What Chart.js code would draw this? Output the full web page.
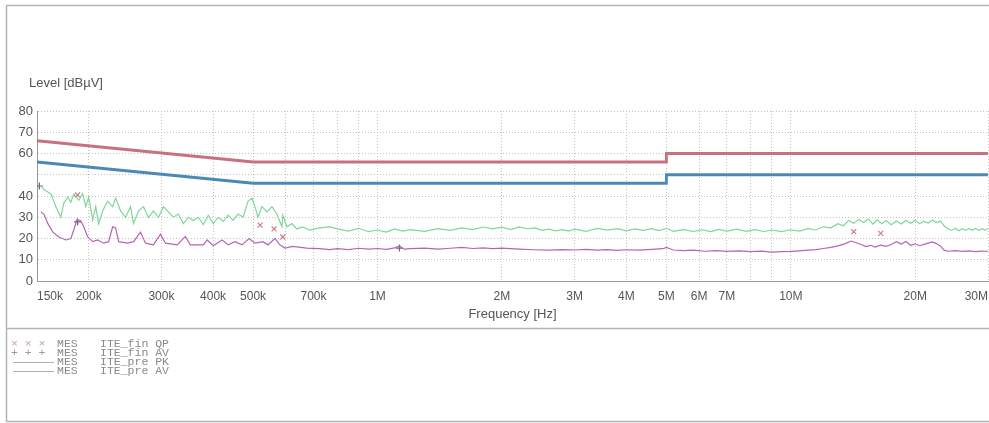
<!DOCTYPE html>
<html>
<head>
<meta charset="utf-8">
<script src="https://cdn.jsdelivr.net/npm/chart.js@4.4.1/dist/chart.umd.min.js"></script>
<style>
html, body { margin: 0; padding: 0; background: #fff; }
</style>
</head>
<body>
<canvas id="myChart" width="989" height="423"></canvas>
<script>
// 頻率單位：MHz
const xGridValues = [0.15, 0.2, 0.3, 0.4, 0.5, 0.6, 0.7, 0.8, 0.9, 1, 2, 3, 4, 5, 6, 7, 8, 9, 10, 20, 30];
const xLabelValues = [0.15, 0.2, 0.3, 0.4, 0.5, 0.7, 1, 2, 3, 4, 5, 6, 7, 10, 20, 30];
const xLabelTexts = ['150k', '200k', '300k', '400k', '500k', '700k', '1M', '2M', '3M', '4M', '5M', '6M', '7M', '10M', '20M', '30M'];
const yTickLabels = [0, 10, 20, 30, 40, 60, 70, 80];

// 限制線
const qpLimitFreq = [0.15, 0.5, 5, 5, 30];
const qpLimitLevel = [66, 56, 56, 60, 60];
const avLimitFreq = [0.15, 0.5, 5, 5, 30];
const avLimitLevel = [56, 46, 46, 50, 50];

// ITE_pre PK
const pkFreq = [0.1533, 0.1559, 0.1621, 0.1666, 0.1713, 0.1742, 0.1781, 0.1811, 0.1841, 0.1893, 0.1935, 0.1968, 0.2001, 0.2046, 0.2080, 0.2115,
    0.2162, 0.2223, 0.2286, 0.2325, 0.2390, 0.2457, 0.2526, 0.2569, 0.2640, 0.2715, 0.2791, 0.2870, 0.2951, 0.3034, 0.3119, 0.3206,
    0.3297, 0.3390, 0.3485, 0.3583, 0.3684, 0.3788, 0.3895, 0.4004, 0.4116, 0.4232, 0.4351, 0.4473, 0.4599, 0.4728, 0.4861, 0.4970,
    0.5053, 0.5138, 0.5253, 0.5401, 0.5553, 0.5709, 0.5870, 0.5902, 0.6034, 0.6204, 0.6377, 0.6593, 0.6855, 0.7247, 0.7664,
    0.8, 0.85, 0.9, 0.95, 1.0, 1.05, 1.1, 1.15, 1.2, 1.3, 1.4, 1.5, 1.6, 1.7, 1.8, 1.9, 2.0, 2.1, 2.2, 2.3, 2.4, 2.5, 2.6, 2.7, 2.8, 2.9,
    3.0, 3.2, 3.4, 3.6, 3.8, 4.0, 4.2, 4.4, 4.6, 4.8, 5.0, 5.2, 5.5, 5.8, 6.1, 6.4, 6.7, 7.0, 7.4, 7.8, 8.2, 8.6, 9.0, 9.5,
    10, 10.5, 11, 11.5, 12, 12.5, 13, 13.4, 13.8, 14.2, 14.6, 15, 15.4, 15.8, 16.2, 16.6, 17, 17.5, 18, 18.5, 19, 19.5, 20, 20.5,
    21, 21.5, 22, 22.5, 23, 23.5, 24, 24.5, 25, 25.5, 26, 26.5, 27, 27.5, 28, 28.5, 29, 29.5, 30];
const pkLevel = [45, 43, 41, 35, 30, 36.7, 39.5, 37, 41, 38, 41, 35, 39.5, 28.7, 35, 27,
    33, 37.5, 35, 39, 33, 30, 35, 27, 33, 35, 30, 33, 30, 35, 32.5, 30,
    31.5, 27, 30, 28.5, 30, 26.5, 31, 27, 30, 28, 31, 28.5, 31.5, 30, 37.5, 39,
    35, 30, 35, 32.5, 35, 31.5, 25.5, 31, 25.5, 27, 24.5, 25.5, 24, 25, 25.5,
    24.5, 23.5, 24.8, 23.2, 24, 23, 24.5, 23.5, 24.2, 23.4, 24.6, 23.8, 25, 24.2, 25.4, 24.5, 25.3, 24.2, 25.5, 24.6, 25, 23.8, 24.4, 23.6, 24.2, 23.5,
    24.4, 23.4, 24.8, 23.9, 24.6, 23.6, 24.5, 23.8, 24.6, 23.7, 24.8, 23.4, 24.2, 23.3, 24.1, 23.2, 24.3, 23.5, 24.4, 23.4, 24.2, 23.3, 24, 23.2,
    24.1, 23.5, 24.6, 24, 25.5, 25, 27, 26, 28.5, 27.2, 29, 27.5, 29.2, 26.8, 28.8, 27, 28.5, 26.5, 28.2, 26.8, 28.5, 27.2, 28.6, 27,
    28, 27.3, 28.6, 27.5, 28.2, 26, 24.6, 23.8, 24.8, 23.6, 24.6, 23.8, 24.7, 23.9, 24.8, 23.7, 24.6, 24, 24.5];

// ITE_pre AV
const avFreq = [0.1533, 0.1559, 0.1594, 0.1639, 0.1694, 0.1761, 0.1811, 0.1841, 0.1872, 0.1913, 0.1946, 0.1990, 0.2046, 0.2103, 0.2174, 0.2236,
    0.2286, 0.2325, 0.2364, 0.2485, 0.2569, 0.2670, 0.2745, 0.2870, 0.2984, 0.3068, 0.3278, 0.3427, 0.3524, 0.3788, 0.3873, 0.4004,
    0.4208, 0.4351, 0.4523, 0.4702, 0.4888, 0.5053, 0.5283, 0.5431, 0.5646, 0.5805, 0.5968, 0.6238, 0.6741, 0.7247, 0.7664,
    0.8, 0.85, 0.9, 0.95, 1.0, 1.05, 1.1, 1.13, 1.16, 1.2, 1.3, 1.4, 1.5, 1.6, 1.7, 1.8, 1.9, 2.0, 2.2, 2.4, 2.6, 2.8, 3.0, 3.2, 3.4, 3.6, 3.8,
    4.0, 4.3, 4.6, 4.9, 5.0, 5.2, 5.5, 5.8, 6.2, 6.6, 7.0, 7.5, 8.0, 8.5, 9.0, 9.5, 10, 10.5, 11, 11.5, 12, 12.5, 13, 13.5, 14, 14.4,
    14.8, 15.2, 15.6, 16, 16.5, 17, 17.5, 18, 18.5, 19, 19.5, 20, 20.5, 21, 21.5, 22, 22.5, 23, 23.5, 24, 25, 26, 27, 28, 29, 30];
const avLevel = [32.5, 31.5, 27, 23, 20.7, 19.3, 20, 24, 28.7, 28.5, 25.5, 20.7, 18.5, 19.3, 17.8, 18.5,
    25.5, 25, 18.5, 17.8, 18.5, 23, 17.8, 17, 22, 17.8, 17, 21, 17, 17, 19.3, 16.6,
    19.3, 17, 18.5, 17, 20, 17.8, 18.5, 17, 20, 17, 15.5, 16.3, 15.5, 15.2, 14.8,
    15.2, 14.8, 15.4, 15, 15.3, 14.9, 15.6, 16.5, 15, 15.2, 15.5, 15, 15.4, 15.8, 15.3, 15.6, 15.2, 15.5, 15, 14.7, 14.5, 14.8, 14.6, 14.9, 14.5, 14.8, 14.4,
    14.7, 14.5, 14.9, 15.2, 15.8, 14.6, 14.3, 14.5, 14, 14.3, 13.9, 14.2, 13.8, 14.1, 13.6, 13.8, 13.9, 14.2, 14.5, 14.8, 15.3, 15.8, 16.5, 17.5, 18.8, 18,
    17.2, 16.2, 16.8, 16, 16.9, 16.3, 17.2, 18.5, 17.4, 18.6, 16.8, 17.5, 16.6, 17.2, 17.8, 18.4, 17.6, 16.5, 14.5, 14, 14.3, 13.9, 14.2, 13.8, 14.1, 14];

// 最終量測點
const qpFinFreq = [0.188, 0.52, 0.562, 0.59, 14.2, 16.5];
const qpFinLevel = [40.5, 26.3, 24.5, 20.7, 23.2, 22.4];
const avFinFreq = [0.152, 0.188, 1.13];
const avFinLevel = [44.7, 27.8, 15.5];

// 圖例文字
const legendRows = [
    { mark: '× × ×', name: 'MES', trace: 'ITE_fin QP' },
    { mark: '+ + +', name: 'MES', trace: 'ITE_fin AV' },
    { mark: 'line', name: 'MES', trace: 'ITE_pre PK' },
    { mark: 'line', name: 'MES', trace: 'ITE_pre AV' }
];

const toPoints = (xs, ys) => xs.map((x, i) => ({ x: x, y: ys[i] }));

// 外框、Y 軸標題與圖例
const framePlugin = {
    id: 'frame',
    afterDraw(chart) {
        const c = chart.ctx;
        c.save();
        c.strokeStyle = '#b4b4b4';
        c.lineWidth = 1.5;
        c.strokeRect(6.5, 5.5, 990, 416);
        c.beginPath();
        c.moveTo(6.5, 328.5);
        c.lineTo(989, 328.5);
        c.stroke();

        c.fillStyle = '#555';
        c.font = '13px "Liberation Sans", Arial, sans-serif';
        c.textBaseline = 'middle';
        c.fillText('Level [dBµV]', 29, 83);

        c.font = '11.5px "Liberation Mono", monospace';
        legendRows.forEach((row, i) => {
            const y = 344 + i * 9;
            if (row.mark === 'line') {
                c.strokeStyle = '#b0b0b0';
                c.lineWidth = 1;
                c.beginPath();
                c.moveTo(13, y + 0.5);
                c.lineTo(54, y + 0.5);
                c.stroke();
            } else {
                c.fillStyle = row.mark.startsWith('×') ? '#c9a0a8' : '#999';
                c.fillText(row.mark, 11, y);
            }
            c.fillStyle = '#8a8a8a';
            c.fillText(row.name, 57, y);
            c.fillText(row.trace, 100, y);
        });
        c.restore();
    }
};

const ctx = document.getElementById('myChart').getContext('2d');
const myChart = new Chart(ctx, {
    type: 'line',
    data: {
        datasets: [
            {
                label: 'QP limit',
                data: toPoints(qpLimitFreq, qpLimitLevel),
                borderColor: '#c8707e',
                borderWidth: 2.8,
                pointRadius: 0
            },
            {
                label: 'AV limit',
                data: toPoints(avLimitFreq, avLimitLevel),
                borderColor: '#4a88b5',
                borderWidth: 2.8,
                pointRadius: 0
            },
            {
                label: 'ITE_pre PK',
                data: toPoints(pkFreq, pkLevel),
                borderColor: '#80d69c',
                borderWidth: 1.2,
                pointRadius: 0
            },
            {
                label: 'ITE_pre AV',
                data: toPoints(avFreq, avLevel),
                borderColor: '#b466b4',
                borderWidth: 1.2,
                pointRadius: 0
            },
            {
                label: 'ITE_fin QP',
                data: toPoints(qpFinFreq, qpFinLevel),
                showLine: false,
                pointStyle: 'crossRot',
                pointRadius: 3.5,
                pointBorderWidth: 1.2,
                borderColor: '#d07c8a'
            },
            {
                label: 'ITE_fin AV',
                data: toPoints(avFinFreq, avFinLevel),
                showLine: false,
                pointStyle: 'cross',
                pointRadius: 3.5,
                pointBorderWidth: 1.2,
                borderColor: '#7c5a7c'
            }
        ]
    },
    options: {
        responsive: false,
        animation: false,
        layout: {
            autoPadding: false,
            padding: { left: 0, top: 111, right: 1, bottom: 95 }
        },
        scales: {
            x: {
                type: 'logarithmic',
                min: 0.15,
                max: 30,
                afterBuildTicks: (scale) => {
                    scale.ticks = xGridValues.map(v => ({ value: v }));
                },
                afterFit: (scale) => {
                    scale.height = 47;
                    scale.paddingLeft = 0;
                    scale.paddingRight = 0;
                },
                grid: { color: '#c4c4c4', drawTicks: false },
                border: { display: true, color: '#9a9a9a', width: 1, dash: [1, 2] },
                ticks: {
                    autoSkip: false,
                    maxRotation: 0,
                    align: 'inner',
                    padding: 8,
                    color: '#555',
                    font: { family: '"Liberation Sans", Arial, sans-serif', size: 12 },
                    callback: (value) => {
                        const i = xLabelValues.indexOf(value);
                        return i >= 0 ? xLabelTexts[i] : '';
                    }
                },
                title: {
                    display: true,
                    text: 'Frequency [Hz]',
                    color: '#555',
                    padding: { top: 0, bottom: 6 },
                    font: { family: '"Liberation Sans", Arial, sans-serif', size: 13 }
                }
            },
            y: {
                min: 0,
                max: 80,
                afterFit: (scale) => {
                    scale.width = 37;
                    scale.paddingTop = 0;
                    scale.paddingBottom = 0;
                },
                grid: { color: '#c4c4c4', drawTicks: false },
                border: { display: true, color: '#9a9a9a', width: 1, dash: [1, 2] },
                ticks: {
                    stepSize: 10,
                    padding: 4,
                    color: '#555',
                    font: { family: '"Liberation Sans", Arial, sans-serif', size: 13 },
                    callback: (value) => yTickLabels.includes(value) ? String(value) : ''
                }
            }
        },
        plugins: {
            legend: { display: false },
            tooltip: { enabled: false }
        }
    },
    plugins: [framePlugin]
});
</script>
</body>
</html>
